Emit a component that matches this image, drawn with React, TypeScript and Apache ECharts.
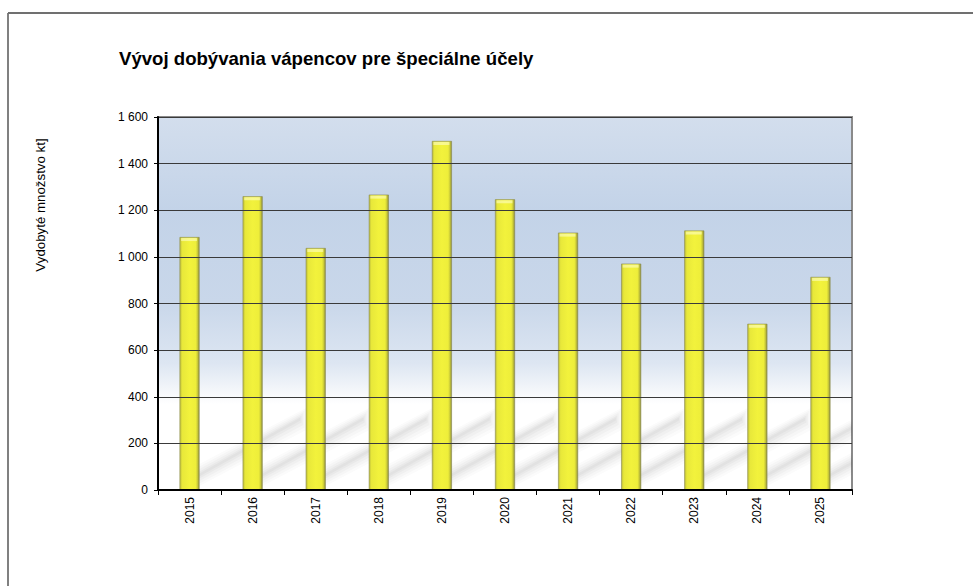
import React, { useEffect, useRef } from "react";
import * as echarts from "echarts";

const categories = ["2015", "2016", "2017", "2018", "2019", "2020", "2021", "2022", "2023", "2024", "2025"];
const values = [1085, 1260, 1038, 1267, 1497, 1247, 1104, 971, 1113, 713, 914];
const yTicks = { min: 0, max: 1600, interval: 200 };
const titleText = "Vývoj dobývania vápencov pre špeciálne účely";
const yAxisName = "Vydobyté množstvo kt]";

const FONT = "'Liberation Sans', Arial, sans-serif";
const BAR_W = 20;

function fmt(v: number): string {
  const s = String(Math.round(v));
  return s.replace(/\B(?=(\d{3})+(?!\d))/g, " ");
}

export default function App() {
  const ref = useRef<HTMLDivElement>(null);
  useEffect(() => {
    if (!ref.current) return;
    const chart = echarts.init(ref.current, null, { renderer: "svg" });
    const pairs = values.map((v, i) => [i, v]);
    chart.setOption({
      animation: false,
      backgroundColor: "#ffffff",
      textStyle: { fontFamily: FONT },
      grid: {
        left: 158,
        top: 117,
        right: 121,
        bottom: 96,
        show: true,
        borderColor: "#8a8a8a",
        borderWidth: 2,
        backgroundColor: new echarts.graphic.LinearGradient(0, 0, 0, 1, [
          { offset: 0, color: "#d3deed" },
          { offset: 0.25, color: "#c3d3e8" },
          { offset: 0.5, color: "#c9d7ea" },
          { offset: 0.66, color: "#dde6f2" },
          { offset: 0.74, color: "#f6f8fb" },
          { offset: 0.77, color: "#ffffff" },
          { offset: 1, color: "#ffffff" },
        ]),
      },
      graphic: [
        {
          type: "line",
          shape: { x1: 8, y1: 13, x2: 8, y2: 586 },
          style: { stroke: "#808080", lineWidth: 2 },
        },
        {
          type: "line",
          shape: { x1: 8, y1: 13, x2: 973, y2: 13 },
          style: { stroke: "#707070", lineWidth: 2 },
        },
        {
          type: "text",
          left: 119,
          top: 49,
          style: { text: titleText, font: `bold 18.6px ${FONT}`, fill: "#000" },
        },
        {
          type: "text",
          x: 40,
          y: 205,
          rotation: Math.PI / 2,
          style: {
            text: yAxisName,
            font: `13.3px ${FONT}`,
            fill: "#000",
            align: "center",
            verticalAlign: "middle",
          },
        },
      ],
      xAxis: {
        type: "category",
        data: categories,
        boundaryGap: true,
        axisLine: { show: true, lineStyle: { color: "#000", width: 2 } },
        axisTick: { show: true, alignWithLabel: false, length: 5, lineStyle: { color: "#000", width: 1 } },
        axisLabel: { rotate: 90, margin: 7, fontSize: 12, color: "#000", fontFamily: FONT },
        splitLine: { show: false },
        z: 5,
      },
      yAxis: {
        type: "value",
        min: yTicks.min,
        max: yTicks.max,
        interval: yTicks.interval,
        axisLine: { show: true, lineStyle: { color: "#000", width: 2 } },
        axisTick: { show: true, length: 4, lineStyle: { color: "#000", width: 1 } },
        axisLabel: { margin: 10, fontSize: 12, color: "#000", fontFamily: FONT, formatter: (v: number) => fmt(v) },
        splitLine: { show: true, lineStyle: { color: "#3a3a3a", width: 1 } },
        z: 5,
      },
      series: [
        {
          type: "custom",
          name: "shadow",
          clip: true,
          z: 1,
          silent: true,
          data: pairs,
          encode: { x: 0, y: 1 },
          renderItem: (params: any, api: any) => {
            const idx = api.value(0);
            const base = api.coord([idx, 0]);
            const x0 = base[0] + BAR_W / 2;
            const y0 = base[1];
            const len = 100;
            const slope = 0.57;
            const layers: [number, number][] = [
              [11, 0.02],
              [8.5, 0.025],
              [6, 0.03],
              [3.5, 0.035],
              [1.5, 0.035],
            ];
            const children = layers.map(([h, a]) => {
              const cy0 = y0 - 14;
              const cy1 = cy0 - slope * len;
              return {
                type: "polygon",
                shape: {
                  points: [
                    [x0 - 2, cy0 + h],
                    [x0 + len + h * 0.6, cy1 + h],
                    [x0 + len + h * 0.6, cy1 - h],
                    [x0 - 2, cy0 - h],
                  ],
                },
                style: { fill: `rgba(60,60,60,${a})` },
              };
            });
            return { type: "group", children };
          },
        },
        {
          type: "bar",
          name: "values",
          data: values,
          barWidth: BAR_W,
          z: 3,
          itemStyle: {
            color: new echarts.graphic.LinearGradient(0, 0, 1, 0, [
              { offset: 0, color: "#bcbc3a" },
              { offset: 0.12, color: "#e8e83a" },
              { offset: 0.5, color: "#f2f23c" },
              { offset: 0.82, color: "#eeee3a" },
              { offset: 0.9, color: "#cfcf38" },
              { offset: 1, color: "#8e8e3c" },
            ]),
            borderColor: "#8a8a50",
            borderWidth: 0.6,
          },
        },
        {
          type: "custom",
          name: "bevel",
          z: 4,
          silent: true,
          data: pairs,
          encode: { x: 0, y: 1 },
          renderItem: (params: any, api: any) => {
            const idx = api.value(0);
            const top = api.coord([idx, api.value(1)]);
            return {
              type: "rect",
              shape: { x: top[0] - BAR_W / 2 + 1.5, y: top[1] + 1, width: BAR_W - 4, height: 3 },
              style: { fill: "rgba(255,255,210,0.55)" },
            };
          },
        },
      ],
    });
    return () => chart.dispose();
  }, []);
  return (
    <div
      ref={ref}
      style={{ position: "absolute", left: 0, top: 0, width: 973, height: 586 }}
    />
  );
}
